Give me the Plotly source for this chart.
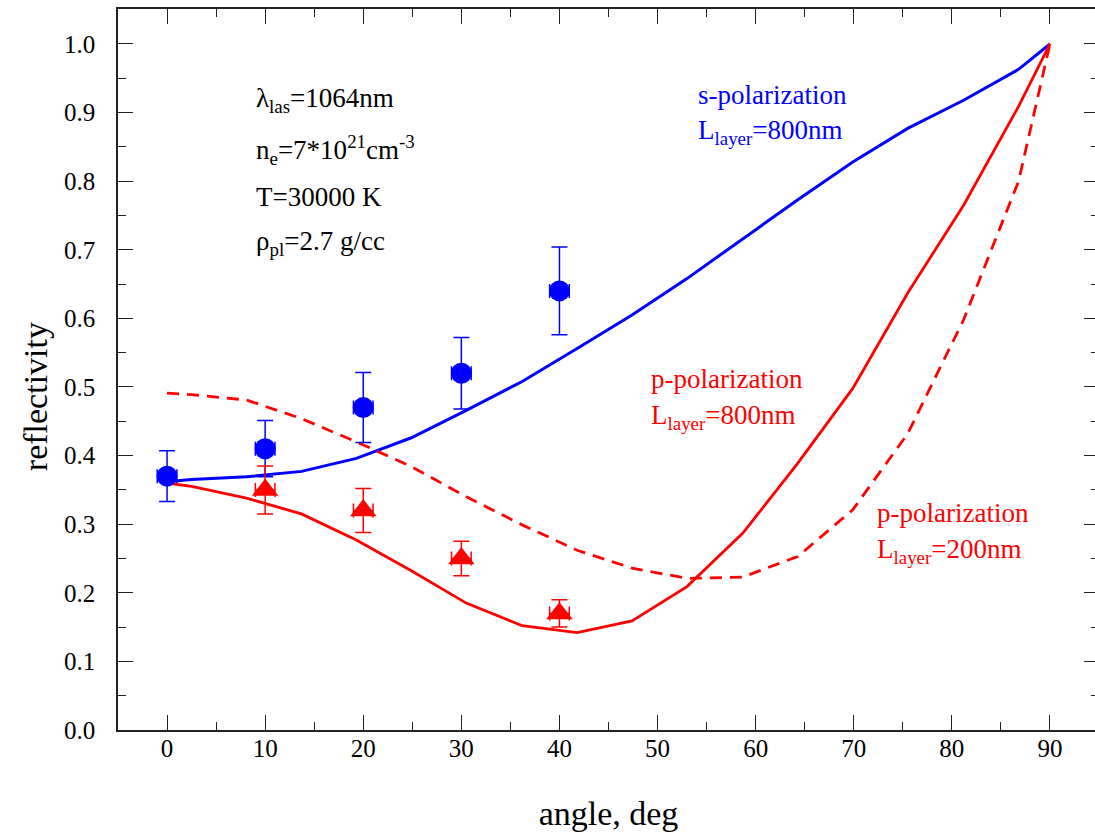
import plotly.graph_objects as go

# theory curves (angle grid)
angle_grid = [0, 2.5, 8.1, 13.7, 19.3, 24.9, 30.5, 36.2, 41.8, 47.4, 53.0, 58.7, 64.3, 69.9, 75.5, 81.2, 86.8, 90]
s_pol_800 = [0.362, 0.365, 0.369, 0.377, 0.396, 0.426, 0.466, 0.508, 0.556, 0.605, 0.658, 0.716, 0.773, 0.828, 0.877, 0.918, 0.963, 1.0]
p_pol_800 = [0.360, 0.355, 0.338, 0.315, 0.277, 0.232, 0.185, 0.152, 0.142, 0.159, 0.209, 0.287, 0.389, 0.498, 0.637, 0.765, 0.909, 1.0]
p_pol_200 = [0.491, 0.489, 0.481, 0.454, 0.420, 0.384, 0.340, 0.299, 0.262, 0.236, 0.221, 0.223, 0.253, 0.321, 0.432, 0.598, 0.800, 1.0]

# measurements
meas_angle = [0, 10, 20, 30, 40]
s_meas = [0.37, 0.41, 0.47, 0.52, 0.64]
s_err = [0.037, 0.041, 0.051, 0.052, 0.064]
p_angle = [10, 20, 30, 40]
p_meas = [0.35, 0.32, 0.25, 0.17]
p_err = [0.035, 0.032, 0.025, 0.02]
angle_err = 1.0

BLUE = "#0000FF"
RED = "#FF0000"
FONT = "'Liberation Serif', 'Times New Roman', serif"

fig = go.Figure()
fig.add_trace(go.Scatter(x=angle_grid, y=s_pol_800, mode="lines",
                         line=dict(color=BLUE, width=3), showlegend=False))
fig.add_trace(go.Scatter(x=angle_grid, y=p_pol_800, mode="lines",
                         line=dict(color=RED, width=2.8), showlegend=False))
fig.add_trace(go.Scatter(x=angle_grid, y=p_pol_200, mode="lines",
                         line=dict(color=RED, width=2.8, dash="12px,8px"), showlegend=False))

fig.add_trace(go.Scatter(
    x=meas_angle, y=s_meas, mode="markers",
    marker=dict(symbol="circle", size=21, color=BLUE),
    error_y=dict(type="data", array=s_err, color=BLUE, thickness=1.5, width=8),
    error_x=dict(type="constant", value=angle_err, color=BLUE, thickness=1.5, width=7),
    showlegend=False))
fig.add_trace(go.Scatter(
    x=p_angle, y=p_meas, mode="markers",
    marker=dict(symbol="triangle-up", size=23, color=RED),
    error_y=dict(type="data", array=p_err, color=RED, thickness=1.5, width=8),
    error_x=dict(type="constant", value=angle_err, color=RED, thickness=1.5, width=7),
    showlegend=False))

def ann(x, y, text, color="black", size=27):
    fig.add_annotation(x=x, y=y, xref="x", yref="y", text=text, showarrow=False,
                       xanchor="left", yanchor="middle",
                       font=dict(family=FONT, size=size, color=color))

ann(8.9, 0.918, "λ<sub>las</sub>=1064nm")
ann(8.9, 0.845, "n<sub>e</sub>=7*10<sup>21</sup>cm<sup>-3</sup>")
ann(8.9, 0.777, "T=30000 K")
ann(8.9, 0.710, "ρ<sub>pl</sub>=2.7 g/cc")

ann(53.9, 0.926, "s-polarization", BLUE)
ann(53.9, 0.871, "L<sub>layer</sub>=800nm", BLUE)

ann(49.1, 0.511, "p-polarization", RED)
ann(49.1, 0.456, "L<sub>layer</sub>=800nm", RED)

ann(72.2, 0.316, "p-polarization", RED)
ann(72.2, 0.261, "L<sub>layer</sub>=200nm", RED)

# y axis title as a rotated annotation (placed lower than plot centre, as in the original)
fig.add_annotation(x=-83 / 983, y=(730 - 397) / 721, xref="paper", yref="paper",
                   text="reflectivity", textangle=-90, showarrow=False,
                   xanchor="center", yanchor="middle",
                   font=dict(family=FONT, size=34, color="black"))

axis_common = dict(
    showline=True, linecolor="#222222", linewidth=1.5, mirror="allticks",
    ticks="inside", ticklen=15, tickwidth=1, tickcolor="#222222",
    showgrid=False, zeroline=False,
    tickfont=dict(family=FONT, size=25, color="black"),
)

fig.update_xaxes(range=[-5, 95], tick0=0, dtick=10,
                 minor=dict(ticks="inside", ticklen=8, dtick=5, tick0=0, tickcolor="#222222"),
                 title=dict(text="angle, deg", font=dict(family=FONT, size=34, color="black"), standoff=40),
                 ticklabelstandoff=-5, **axis_common)
fig.update_yaxes(range=[0, 1.051], tick0=0, dtick=0.1, tickformat=".1f",
                 minor=dict(ticks="inside", ticklen=8, dtick=0.05, tick0=0, tickcolor="#222222"),
                 ticklabelstandoff=16, **axis_common)

fig.update_layout(width=1101, height=833, margin=dict(l=118, r=0, t=9, b=103),
                  plot_bgcolor="white", paper_bgcolor="white")

fig.write_html("out.html", config={"displayModeBar": False},
               post_script="document.body.style.margin='0';document.body.style.overflow='hidden';")
